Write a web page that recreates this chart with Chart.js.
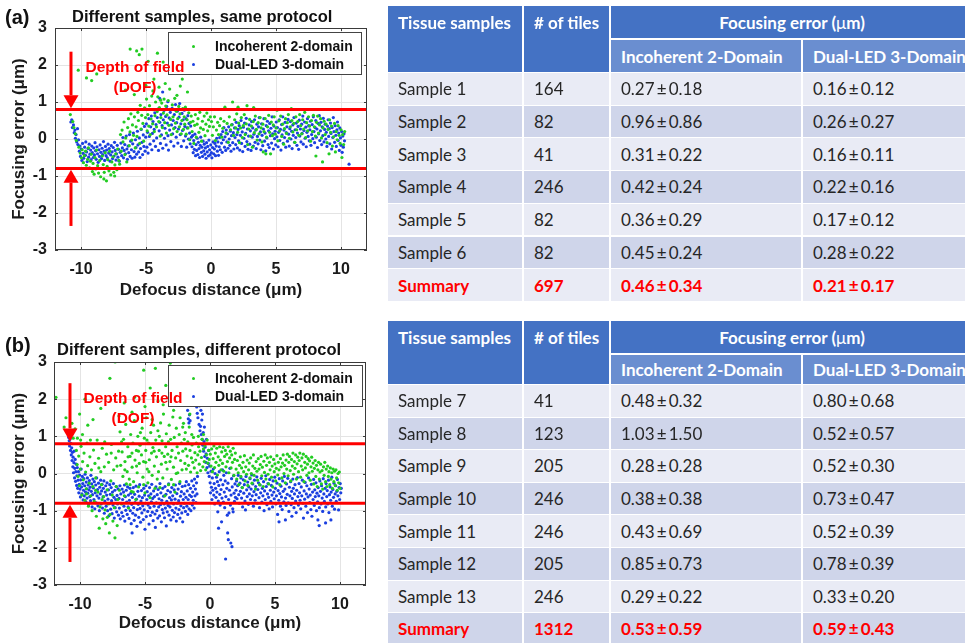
<!DOCTYPE html>
<html><head><meta charset="utf-8">
<script src="https://cdn.jsdelivr.net/npm/chart.js@4"></script>
<style>
html,body{margin:0;padding:0;width:965px;height:643px;overflow:hidden;background:#fff;font-family:"Liberation Sans",Arial,sans-serif;}
canvas{position:absolute;left:0;}
.lbl{position:absolute;font-weight:bold;color:#111;white-space:nowrap;}
.legend{position:absolute;background:#fff;border:1px solid #444;box-sizing:border-box;}
.legend .row{position:absolute;left:46px;font:bold 14px "Liberation Sans",Arial,sans-serif;color:#111;white-space:nowrap;line-height:16px;}
.legend .dot{position:absolute;left:23px;width:3px;height:3px;border-radius:50%;}
.dof{position:absolute;color:#ff0000;font:bold 15.5px "Liberation Sans",Arial,sans-serif;text-align:center;line-height:20px;width:180px;white-space:nowrap;}
.cell{position:absolute;box-sizing:border-box;border-right:2px solid #fff;border-bottom:1px solid #fff;font-family:Lato,"Open Sans",sans-serif;font-size:17px;white-space:nowrap;padding-left:10px;display:flex;align-items:center;overflow:hidden;color:#262626;}
</style></head>
<body>
<canvas id="ca" width="385" height="305" style="top:0"></canvas>
<canvas id="cb" width="385" height="308" style="top:330px"></canvas>

<div class="lbl" style="left:5px;top:5px;font-size:20px;line-height:24px;">(a)</div>
<div class="lbl" style="left:72px;top:7px;font-size:16.5px;line-height:19px;">Different samples, same protocol</div>
<div class="legend" style="left:168px;top:32px;width:194px;height:43px;">
  <div class="dot" style="top:12px;background:#22cc22"></div><div class="row" style="top:5px">Incoherent 2-domain</div>
  <div class="dot" style="top:30px;background:#1a3fe0"></div><div class="row" style="top:23px">Dual-LED 3-domain</div>
</div>
<div class="dof" style="left:45px;top:57px;">Depth of field<br>(DOF)</div>

<div class="lbl" style="left:5px;top:333px;font-size:20px;line-height:24px;">(b)</div>
<div class="lbl" style="left:57px;top:340px;font-size:16.5px;line-height:19px;">Different samples, different protocol</div>
<div class="legend" style="left:168px;top:365px;width:195px;height:42px;">
  <div class="dot" style="top:11px;background:#22cc22"></div><div class="row" style="top:4px">Incoherent 2-domain</div>
  <div class="dot" style="top:29px;background:#1a3fe0"></div><div class="row" style="top:22px">Dual-LED 3-domain</div>
</div>
<div class="dof" style="left:43px;top:388px;">Depth of field<br>(DOF)</div>

<div id="tables"></div>

<script>
// ---------------- axis / reference values ----------------
const xRange = [-12, 12];
const yRange = [-3, 3];
const xTicks = [-10, -5, 0, 5, 10];
const yTicks = [-3, -2, -1, 0, 1, 2, 3];
const dofLimits = [0.8, -0.8];

// ---------------- panel (a): Incoherent 2-domain [defocus µm, error µm] ----------------
const aInc = [
[-10.82,0.66],[-10.63,0.47],[-10.55,0.31],[-10.44,0.14],[-10.36,-0.04],[-10.21,1.86],[-9.58,1.65],[-9.18,1.58],[-8.79,1.76],
[-10.16,-0.22],[-10.06,-0.38],[-9.96,-0.51],[-9.91,-0.29],[-9.81,-0.64],[-9.74,-0.45],[-9.65,-0.33],[-9.59,-0.71],[-9.49,-0.55],[-9.43,-0.24],
[-9.34,-0.78],[-9.27,-0.6],[-9.21,-0.41],[-9.12,-0.88],[-9.07,-0.66],[-8.99,-0.95],[-8.93,-0.5],[-8.86,-0.81],[-8.8,-0.3],[-8.72,-0.72],
[-8.65,-0.92],[-8.56,-0.58],[-8.49,-1.02],[-8.44,-0.79],[-8.36,-0.46],[-8.29,-0.69],[-8.21,-0.9],[-8.14,-0.37],[-8.04,-1.13],[-7.99,-0.74],
[-7.94,-0.56],[-7.85,-0.86],[-7.79,-0.33],[-7.71,-0.97],[-7.63,-0.62],[-7.54,-0.48],[-7.48,-0.9],[-7.39,-0.7],[-7.33,-0.4],[-7.24,-0.83],
[-7.18,-0.27],[-7.09,-0.58],[-7.03,-0.68],[-7.41,-1.0],[-8.24,-1.08],
[-6.96,0.12],[-6.91,-0.33],[-6.84,0.24],[-6.77,-0.08],[-6.69,0.46],[-6.62,-0.42],[-6.56,0.03],[-6.48,-0.62],[-6.41,0.31],[-6.35,0.55],
[-6.29,-0.18],[-6.23,0.19],[-6.16,0.68],[-6.09,-0.03],[-6.04,0.38],[-5.96,0.1],[-5.89,0.6],[-5.83,-0.24],[-5.76,0.33],[-5.69,0.07],
[-5.63,0.72],[-5.58,0.5],[-5.49,-0.12],[-5.44,0.91],[-5.38,0.27],[-5.33,0.64],[-5.24,0.42],[-5.18,-0.06],[-5.11,0.84],[-5.04,0.58],
[-6.22,2.43],[-5.72,2.38],[-5.31,2.43],[-5.52,2.28],[-4.12,2.32],[-4.83,2.1],[-3.68,2.08],[-2.93,1.84],[-2.21,1.62],[-2.36,1.43],
[-1.81,1.27],[-3.52,1.5],[-4.47,1.3],[-3.18,1.35],[-5.02,1.45],[-2.62,1.18],[-3.88,1.05],[-4.39,1.62],[-6.58,1.32],[-5.9,1.2],[-4.0,1.4],
[-4.96,1.08],[-4.91,0.22],[-4.86,0.66],[-4.79,0.35],[-4.73,0.9],[-4.67,0.12],[-4.61,0.54],[-4.56,1.16],[-4.49,0.41],[-4.43,0.79],
[-4.36,0.2],[-4.31,0.63],[-4.26,1.0],[-4.19,0.33],[-4.14,0.74],[-4.09,1.14],[-4.02,0.47],[-3.97,0.85],[-3.91,0.08],[-3.86,0.58],
[-3.79,0.97],[-3.74,0.31],[-3.66,0.7],[-3.61,1.08],[-3.56,0.44],[-3.48,0.89],[-3.43,0.16],[-3.38,0.65],[-3.29,1.04],[-3.24,0.37],
[-3.16,0.8],[-3.11,0.53],[-3.06,0.12],[-2.98,0.92],[-2.92,0.6],[-2.87,0.28],[-2.79,1.1],[-2.74,0.43],[-2.67,0.75],[-2.61,0.2],
[-2.56,0.55],[-2.48,0.88],[-2.43,0.33],[-2.38,0.68],[-2.29,0.14],[-2.24,0.5],[-2.17,0.82],[-2.12,0.26],[-2.06,0.6],[-2.02,0.4],
[-1.97,0.86],[-1.91,0.13],[-1.84,0.52],[-1.77,0.3],[-1.71,0.71],[-1.64,-0.02],[-1.58,0.45],[-1.52,0.62],[-1.45,0.2],[-1.39,0.48],
[-1.32,-0.12],[-1.26,0.37],[-1.2,0.66],[-1.13,0.05],[-1.07,0.4],[-1.0,0.55],[-0.93,0.18],[-0.86,0.72],[-0.8,0.3],[-0.73,-0.06],
[-0.66,0.48],[-0.59,0.26],[-0.52,0.62],[-0.46,0.09],[-0.39,0.4],[-0.32,0.7],[-0.26,0.22],[-0.19,0.52],[-0.12,0.34],[-0.05,0.6],
[0.04,0.47],[0.11,0.1],[0.18,0.33],[0.27,0.6],[0.34,-0.04],[0.42,0.24],[0.51,0.45],[0.58,0.12],[0.66,0.36],[0.74,0.55],[0.83,0.05],
[0.91,0.29],[1.0,0.48],[1.07,0.86],[1.15,0.16],[1.24,0.42],[1.33,-0.09],[1.41,0.6],[1.5,0.25],[1.57,0.38],[1.66,1.0],[1.73,0.1],
[1.82,0.52],[1.9,0.3],[1.98,0.68],[2.08,0.86],
[2.05,0.18],[2.13,0.43],[2.19,-0.1],[2.27,0.3],[2.33,0.58],[2.41,0.04],[2.48,0.36],[2.56,0.66],[2.63,0.12],[2.71,0.41],[2.77,0.9],
[2.82,-0.15],[2.9,0.27],[2.97,0.53],[3.04,0.08],[3.11,0.35],[3.19,-0.22],[3.25,0.47],[3.28,0.85],[3.33,0.17],[3.41,0.62],[3.49,0.26],
[3.55,-0.03],[3.63,0.44],[3.7,0.14],[3.78,0.58],[3.86,0.3],[3.92,-0.08],[3.99,0.4],[4.02,-0.35],[4.08,0.2],[4.17,0.55],[4.22,-0.4],
[4.27,0.05],[4.35,0.33],[4.44,0.64],[4.51,0.18],[4.58,-0.4],[4.64,0.46],[4.72,0.09],[4.79,0.38],[4.86,0.6],[4.94,0.13],[5.01,0.3],
[5.08,0.78],[5.14,-0.05],[5.22,0.49],[5.28,0.22],[5.36,0.62],[5.44,0.07],[5.51,0.4],[5.59,-0.14],[5.65,0.28],[5.73,0.55],[5.81,0.15],
[5.87,0.44],[5.95,0.66],[6.03,0.02],[6.1,0.33],[6.18,0.82],[6.22,0.5],[6.3,0.19],[6.37,0.42],[6.45,-0.09],[6.53,0.6],[6.59,0.25],
[6.67,0.47],[6.75,0.1],[6.82,0.66],[6.9,0.36],[6.98,0.14],[7.05,0.52],[7.13,0.27],[7.21,0.72],[7.28,0.04],[7.36,0.44],[7.43,0.22],
[7.5,0.6],[7.58,0.35],[7.66,-0.06],[7.73,0.5],[7.8,0.2],[7.88,0.64],[7.95,0.33],[8.03,0.08],[8.07,-0.46],[8.12,0.45],[8.2,0.62],
[8.27,0.16],[8.35,0.38],[8.43,0.55],[8.5,0.03],[8.58,-0.62],[8.62,0.3],[8.7,0.48],[8.78,0.12],[8.85,0.4],[8.93,-0.1],[9.0,0.26],
[9.08,-0.4],[9.12,0.52],[9.2,0.18],[9.27,0.35],[9.34,-0.19],[9.42,0.06],[9.5,0.42],[9.57,-0.35],[9.63,0.2],[9.71,-0.02],[9.78,0.36],
[9.85,0.1],[9.93,-0.12],[10.0,0.25],[10.07,-0.5],[10.13,0.12],[10.2,-0.15],[10.28,0.2]
];

// ---------------- panel (a): Dual-LED 3-domain ----------------
const aDual = [
[-10.78,0.46],[-10.71,0.52],[-10.66,0.31],[-10.58,0.38],[-10.52,0.17],[-10.47,0.24],[-10.43,0.02],[-10.38,0.12],[-10.33,-0.08],
[-10.27,0.28],[-10.24,-0.15],[-10.19,-0.02],
[-10.13,-0.33],[-10.08,-0.19],[-10.04,-0.47],[-9.97,-0.27],[-9.93,-0.58],[-9.88,-0.12],[-9.83,-0.39],[-9.79,-0.52],[-9.72,-0.22],
[-9.66,-0.44],[-9.63,-0.08],[-9.57,-0.35],[-9.52,-0.61],[-9.46,-0.26],[-9.41,-0.49],[-9.37,-0.14],[-9.31,-0.41],[-9.26,-0.3],
[-9.22,-0.56],[-9.17,-0.19],[-9.13,-0.37],[-9.06,-0.5],[-9.02,-0.24],[-8.97,-0.43],[-8.92,-0.1],[-8.88,-0.32],[-8.83,-0.55],
[-8.77,-0.21],[-8.73,-0.4],[-8.68,-0.63],[-8.62,-0.29],[-8.58,-0.47],[-8.53,-0.16],[-8.47,-0.36],[-8.42,-0.53],[-8.38,-0.25],
[-8.33,-0.42],[-8.27,-0.07],[-8.22,-0.33],[-8.18,-0.58],[-8.12,-0.2],[-8.07,-0.45],[-8.03,-0.3],[-7.98,-0.51],[-7.92,-0.14],
[-7.87,-0.38],[-7.83,-0.26],[-7.76,-0.6],[-7.72,-0.43],[-7.67,-0.18],[-7.61,-0.35],[-7.57,-0.53],[-7.52,-0.23],[-7.46,-0.46],
[-7.42,-0.09],[-7.37,-0.31],[-7.31,-0.57],[-7.27,-0.4],[-7.21,-0.17],[-7.16,-0.49],[-7.11,-0.28],[-7.06,-0.6],
[-6.98,-0.36],[-6.93,-0.11],[-6.87,-0.45],[-6.82,-0.24],[-6.78,0.04],[-6.73,-0.51],[-6.68,-0.31],[-6.63,-0.15],[-6.58,-0.4],
[-6.52,0.08],[-6.47,-0.27],[-6.43,-0.55],[-6.38,-0.19],[-6.33,-0.37],[-6.27,0.12],[-6.22,-0.47],[-6.18,-0.06],[-6.12,-0.29],
[-6.07,-0.52],[-6.02,-0.13],[-5.97,0.16],[-5.92,-0.34],[-5.86,-0.49],[-5.81,-0.02],[-5.77,-0.23],[-5.72,-0.41],[-5.66,0.21],
[-5.62,-0.16],[-5.57,-0.35],[-5.51,0.03],[-5.46,-0.5],[-5.42,-0.26],[-5.37,0.26],[-5.31,-0.09],[-5.26,-0.42],[-5.21,0.11],
[-5.16,-0.2],[-5.12,0.34],[-5.07,-0.33],[-5.02,0.05],
[-4.97,0.41],[-4.93,-0.22],[-4.88,0.18],[-4.84,-0.38],[-4.78,0.55],[-4.74,0.07],[-4.69,-0.14],[-4.64,0.33],[-4.59,0.62],[-4.55,-0.29],
[-4.51,0.15],[-4.46,0.47],[-4.41,-0.05],[-4.37,0.26],[-4.32,0.71],[-4.27,-0.2],[-4.23,0.39],[-4.18,0.03],[-4.13,0.58],[-4.08,0.81],
[-4.04,-0.31],[-3.99,0.22],[-3.95,1.1],[-3.94,0.45],[-3.89,-0.12],[-3.85,0.66],[-3.81,0.11],[-3.76,0.36],[-3.72,1.27],[-3.71,-0.25],
[-3.67,0.52],[-3.62,0.77],[-3.58,0.02],[-3.54,0.29],[-3.49,0.61],[-3.45,-0.16],[-3.41,0.88],[-3.36,0.43],[-3.32,1.01],[-3.31,0.09],
[-3.27,-0.3],[-3.22,0.57],[-3.18,0.24],[-3.13,0.72],[-3.09,-0.07],[-3.04,0.38],[-2.99,0.83],[-2.95,0.14],[-2.91,0.5],[-2.86,-0.19],
[-2.82,0.66],[-2.77,0.31],[-2.73,0.93],[-2.68,0.05],[-2.64,0.44],[-2.59,0.75],[-2.55,-0.11],[-2.5,0.27],[-2.46,0.59],[-2.41,0.96],
[-2.37,0.12],[-2.32,0.41],[-2.28,-0.2],[-2.23,0.69],[-2.19,0.23],[-2.14,0.52],[-2.1,-0.05],[-2.05,0.78],[-2.01,0.34],[-1.96,0.08],
[-1.92,0.55],[-1.87,-0.22],[-1.83,0.3],[-1.78,0.63],[-1.74,0.0],[-1.69,0.42],[-1.65,0.16],[-1.6,-0.13],[-1.56,0.35],[-1.51,0.05],
[-1.46,-0.21],[-1.42,0.09],[-1.37,-0.37],[-1.33,-0.04],[-1.28,-0.28],[-1.24,0.13],[-1.19,-0.45],[-1.15,-0.15],[-1.1,-0.31],
[-1.06,0.02],[-1.01,-0.42],[-0.97,-0.09],[-0.92,-0.26],[-0.88,-0.5],[-0.83,-0.17],[-0.79,0.05],[-0.74,-0.36],[-0.7,-0.22],
[-0.65,-0.47],[-0.61,-0.06],[-0.56,-0.32],[-0.52,-0.14],[-0.47,-0.41],[-0.43,-0.24],[-0.38,-0.52],[-0.34,-0.1],[-0.29,-0.35],
[-0.25,-0.2],[-0.2,-0.46],[-0.16,-0.03],[-0.11,-0.29],[-0.07,-0.43],[-0.02,-0.16],[0.03,-0.37],[0.07,-0.51],[0.12,-0.23],
[0.16,-0.08],[0.21,-0.4],[0.26,-0.27],[0.3,-0.12],[0.35,-0.45],[0.4,-0.19],[0.44,0.02],[0.49,-0.33],[0.53,-0.08],[0.58,-0.44],
[0.63,-0.21],[0.67,0.04],
[0.72,-0.29],[0.77,0.12],[0.81,-0.11],[0.86,-0.36],[0.9,0.2],[0.95,-0.02],[0.99,0.31],[1.04,-0.22],[1.08,0.06],[1.13,-0.31],
[1.17,0.24],[1.22,-0.08],[1.27,0.14],[1.31,-0.25],[1.36,0.33],[1.4,0.0],[1.45,-0.17],[1.49,0.21],[1.54,-0.33],[1.58,0.09],
[1.63,0.39],[1.67,-0.1],[1.72,0.17],[1.76,-0.27],[1.81,0.3],[1.85,0.04],[1.9,-0.15],[1.94,0.45],[1.99,0.12],[2.03,-0.24],
[2.08,0.26],[2.12,-0.05],[2.17,0.36],[2.21,-0.3],[2.26,0.1],[2.31,0.5],[2.35,-0.12],[2.4,0.19],[2.44,-0.34],[2.49,0.32],
[2.53,0.02],[2.58,0.43],[2.62,-0.2],[2.67,0.15],[2.71,0.56],[2.76,-0.07],[2.8,0.27],[2.85,-0.28],[2.89,0.08],[2.94,0.38],
[2.98,-0.14],[3.03,0.22],[3.08,-0.31],[3.12,0.47],[3.17,0.05],[3.21,0.3],[3.26,-0.19],[3.3,0.13],[3.35,0.52],[3.39,-0.09],
[3.44,0.24],[3.48,-0.26],[3.53,0.4],[3.57,0.07],[3.62,-0.13],[3.66,0.33],[3.71,0.58],[3.75,-0.03],[3.8,0.19],[3.84,-0.29],
[3.89,0.41],[3.93,0.1],[3.98,-0.18],[4.03,0.27],[4.07,0.55],[4.12,-0.06],[4.16,0.16],[4.21,-0.32],[4.25,0.36],[4.3,0.03],
[4.34,0.48],[4.39,-0.15],[4.43,0.22],[4.48,-0.23],[4.52,0.42],[4.57,0.09],[4.61,0.29],[4.66,-0.11],[4.7,0.6],[4.75,0.14],
[4.8,-0.27],[4.84,0.35],[4.89,0.01],[4.93,0.21],[4.98,-0.16],[5.02,0.46],[5.07,0.06],[5.11,0.31],[5.16,-0.21],[5.2,0.18],
[5.25,0.52],[5.29,-0.04],[5.34,0.26],[5.38,-0.3],[5.43,0.39],[5.47,0.11],[5.52,0.6],[5.56,-0.12],[5.61,0.24],[5.66,0.04],
[5.7,0.45],[5.75,-0.22],[5.79,0.17],[5.84,0.33],[5.88,-0.06],[5.93,0.53],[5.97,0.13],[6.02,-0.19],[6.06,0.28],[6.11,0.47],
[6.15,0.0],[6.2,0.21],[6.24,-0.26],[6.29,0.38],[6.33,0.1],[6.38,0.58],[6.43,-0.09],[6.47,0.25],[6.52,0.04],[6.56,0.43],
[6.61,-0.17],[6.65,0.16],[6.7,0.34],[6.74,-0.28],[6.79,0.51],[6.83,0.08],[6.88,0.27],[6.92,-0.08],[6.97,0.4],[7.01,0.15],
[7.06,0.62],[7.1,-0.14],[7.15,0.23],[7.2,0.46],[7.24,0.02],[7.29,0.32],[7.33,-0.21],[7.38,0.18],[7.42,0.55],[7.47,0.07],
[7.51,0.36],[7.56,-0.05],[7.6,0.25],[7.65,0.48],[7.69,-0.17],[7.74,0.12],[7.78,0.39],[7.83,0.01],[7.87,0.6],[7.92,0.2],
[7.97,-0.1],[8.01,0.31],[8.06,0.5],[8.1,0.05],[8.15,0.27],[8.19,-0.23],[8.24,0.42],[8.28,0.14],[8.33,0.63],[8.37,-0.04],
[8.42,0.22],[8.46,0.45],[8.51,-0.15],[8.55,0.33],[8.6,0.09],[8.64,0.56],[8.69,-0.08],[8.74,0.26],[8.78,0.4],[8.83,0.0],
[8.87,0.18],[8.92,-0.2],[8.96,0.35],[9.01,0.52],[9.05,0.07],[9.1,0.28],[9.14,-0.13],[9.19,0.43],[9.23,0.15],[9.28,-0.27],
[9.32,0.31],[9.37,0.04],[9.41,0.58],[9.46,0.2],[9.51,-0.09],[9.55,0.36],[9.6,0.1],[9.64,-0.2],[9.69,0.25],[9.73,0.46],
[9.78,-0.04],[9.82,0.16],[9.87,-0.31],[9.91,0.3],[9.96,0.03],[10.0,-0.17],[10.05,0.2],[10.09,-0.36],[10.14,0.08],[10.18,-0.22],
[10.23,0.14],[10.27,-0.05],[10.62,-0.68]
];

// ---------------- panel (b): Incoherent 2-domain ----------------
const bInc = [
[-11.85,2.05],[-11.22,1.25],[-11.08,1.5],[-10.93,1.1],[-10.62,1.35],[-10.52,0.95],[-10.38,1.2],[-9.62,2.0],[-10.03,1.6],[-9.81,1.05],
[-10.75,1.05],[-10.2,0.95],[-9.4,1.3],
[-7.3,3.0],[-5.1,2.78],[-4.2,2.83],[-3.05,2.97],[-7.7,2.56],[-3.4,2.37],[-1.7,1.84],[-2.1,1.25],[-4.6,2.3],[-5.8,2.05],[-6.6,1.9],
[-3.0,2.2],[-2.5,1.95],[-4.0,1.95],[-8.4,1.75],[-6.0,1.65],[-5.0,1.8],[-1.55,1.6],[-2.8,1.7],[-3.6,1.85],[-7.0,1.55],[-9.0,1.45],
[-10.28,0.62],[-10.22,0.24],[-10.15,-0.08],[-10.1,0.47],[-10.04,-0.33],[-9.98,0.12],[-9.92,0.73],[-9.86,-0.58],[-9.8,0.32],
[-9.75,-0.17],[-9.69,0.55],[-9.63,-0.72],[-9.57,0.04],[-9.52,-0.41],[-9.46,0.82],[-9.41,0.21],[-9.35,-0.88],[-9.29,-0.26],
[-9.24,0.45],[-9.18,-0.6],[-9.12,0.1],[-9.07,-1.0],[-9.01,-0.35],[-8.96,0.63],[-8.9,-0.75],[-8.85,0.27],[-8.79,-0.12],[-8.74,-1.15],
[-8.68,0.9],[-8.62,-0.5],[-8.57,0.41],[-8.52,-1.47],[-8.46,-0.9],[-8.4,0.05],[-8.35,-0.3],[-8.29,0.68],[-8.24,-1.22],[-8.18,-0.62],
[-8.13,0.18],[-8.07,-0.98],[-8.02,-1.35],[-7.96,0.52],[-7.91,-0.44],[-7.85,-0.82],[-7.8,0.3],[-7.74,-1.6],[-7.69,-1.1],[-7.63,-0.2],
[-7.58,0.78],[-7.52,-0.58],[-7.47,-1.28],[-7.41,0.1],[-7.36,-0.92],[-7.31,-1.73],[-7.25,0.42],[-7.2,-0.35],[-7.14,-1.4],[-7.09,-0.7],
[-7.03,0.6],[-9.2,0.9],[-8.1,0.85],[-7.6,0.55],[-8.8,-0.45],[-9.5,-0.55],[-8.3,-0.7],[-7.9,-1.18],[-7.15,0.2],[-9.95,0.9],[-8.55,0.15],
[-6.97,-0.45],[-6.92,1.12],[-6.87,0.22],[-6.81,-0.82],[-6.76,0.58],[-6.7,-0.08],[-6.65,0.92],[-6.59,-0.6],[-6.54,0.32],[-6.48,1.32],
[-6.43,-0.28],[-6.37,0.05],[-6.32,0.72],[-6.26,-0.93],[-6.21,-0.15],[-6.15,0.46],[-6.1,1.05],[-6.04,-0.48],[-5.99,0.17],[-5.93,0.82],
[-5.88,-0.22],[-5.82,1.42],[-5.77,0.36],[-5.71,-0.7],[-5.66,0.62],[-5.6,0.02],[-5.55,1.0],[-5.49,-0.36],[-5.44,0.27],[-5.38,0.76],
[-5.33,-0.8],[-5.27,0.5],[-5.22,1.22],[-5.16,-0.1],[-5.11,0.32],[-5.05,0.95],[-5.0,-0.52],[-4.94,0.62],[-4.89,1.5],[-4.83,0.12],
[-4.78,-0.25],[-4.72,0.82],[-4.67,0.37],[-4.61,-0.65],[-4.56,1.1],[-4.5,0.55],[-4.45,-0.05],[-4.39,0.7],[-4.34,1.3],[-4.28,0.2],
[-4.23,-0.4],[-4.17,0.9],[-4.12,0.45],[-4.06,-0.15],[-4.01,1.15],[-6.8,0.85],[-6.3,0.45],[-5.9,-0.5],[-5.5,0.6],[-5.1,-0.3],
[-4.7,0.05],[-4.3,0.6],[-6.55,0.1],[-6.0,0.55],[-5.35,1.1],[-4.95,0.3],[-4.45,1.45],[-6.15,-0.3],[-5.65,0.2],[-4.85,0.9],
[-3.96,0.05],[-3.91,0.62],[-3.85,-0.38],[-3.8,1.36],[-3.74,0.25],[-3.69,0.88],[-3.63,-0.12],[-3.58,1.6],[-3.52,0.46],[-3.47,-0.6],
[-3.41,0.72],[-3.36,1.07],[-3.3,0.12],[-3.25,0.52],[-3.19,-0.3],[-3.14,1.3],[-3.08,0.32],[-3.03,0.92],[-2.97,-0.16],[-2.92,0.62],
[-2.86,1.52],[-2.81,0.17],[-2.75,0.97],[-2.7,-0.5],[-2.64,0.42],[-2.59,1.22],[-2.53,0.72],[-2.48,0.02],[-2.42,0.55],[-2.37,1.05],
[-2.31,-0.22],[-2.26,0.35],[-2.2,0.82],[-2.15,0.1],[-2.09,0.6],[-2.04,1.35],[-3.9,1.0],[-3.4,0.3],[-3.0,0.45],[-2.6,0.0],[-2.3,1.5],
[-3.7,0.55],[-2.8,-0.3],[-3.2,0.85],
[-1.98,0.92],[-1.93,0.27],[-1.87,0.66],[-1.82,0.12],[-1.76,0.47],[-1.71,0.85],[-1.65,0.22],[-1.6,1.25],[-1.54,0.62],[-1.49,0.04],
[-1.43,0.42],[-1.38,0.77],[-1.32,0.3],[-1.27,0.97],[-1.21,0.15],[-1.16,0.56],[-1.1,0.36],[-1.05,0.82],[-0.99,0.02],[-0.94,0.5],
[-0.88,0.72],[-0.83,0.25],[-0.77,0.6],[-0.72,0.08],[-0.66,0.43],[-0.61,0.92],[-0.55,0.18],[-0.5,0.66],[-0.44,0.32],[-0.39,0.75],
[-0.33,0.1],[-0.28,0.5],[-0.22,0.9],[-0.17,0.28],[-0.11,0.62],[-0.06,0.38],[-1.9,1.1],[-1.4,1.05],[-0.9,1.0],[-0.5,1.05],
[0.02,0.52],[0.08,0.2],[0.13,0.66],[0.19,0.05],[0.24,0.4],[0.3,0.74],[0.35,0.16],[0.41,0.55],[0.46,0.3],[0.52,0.68],[0.57,-0.04],
[0.63,0.45],[0.68,0.22],[0.74,0.72],[0.79,0.36],[0.85,0.1],[0.9,0.58],[0.96,0.27],[1.01,0.7],[1.07,0.06],[1.12,0.46],[1.18,0.62],
[1.23,0.18],[1.29,0.52],[1.34,0.32],[1.4,0.72],[1.45,0.02],[1.51,0.42],[1.56,0.6],[1.62,0.15],[1.67,0.5],[1.73,0.3],[1.78,0.68],
[1.84,-0.05],[1.89,0.38],[1.95,0.55],
[2.01,0.12],[2.06,-0.15],[2.11,0.35],[2.17,0.02],[2.22,-0.3],[2.27,0.22],[2.33,0.45],[2.38,-0.08],[2.43,0.15],[2.49,-0.38],
[2.54,0.3],[2.59,0.05],[2.65,0.48],[2.7,-0.2],[2.75,0.18],[2.81,-0.02],[2.86,0.36],[2.91,-0.32],[2.97,0.1],[3.02,0.28],[3.07,-0.12],
[3.13,0.42],[3.18,0.0],[3.23,-0.26],[3.29,0.2],[3.34,0.5],[3.39,-0.05],[3.45,0.14],[3.5,-0.42],[3.55,0.32],[3.61,0.06],[3.66,-0.18],
[3.71,0.4],[3.77,0.12],[3.82,-0.3],[3.87,0.24],[3.93,0.46],[3.98,-0.06],[4.03,0.17],[4.09,-0.35],[4.14,0.33],[4.19,0.03],[4.25,0.5],
[4.3,-0.15],[4.35,0.22],[4.41,0.42],[4.46,-0.02],[4.51,-0.28],[4.57,0.3],[4.62,0.1],[4.67,0.45],[4.73,-0.1],[4.78,0.2],[4.83,-0.36],
[4.89,0.38],[4.94,0.05],[4.99,0.26],[5.05,-0.2],[5.1,0.14],[5.15,0.48],[5.21,-0.04],[5.26,0.3],[5.31,0.1],[5.37,-0.3],[5.42,0.4],
[5.47,0.18],[5.53,-0.12],[5.58,0.28],[5.63,0.5],[5.69,0.0],[5.74,0.22],[5.79,-0.25],[5.85,0.36],[5.9,0.12],[5.95,0.52],[6.01,-0.06],
[6.06,0.3],[6.11,0.46],[6.17,0.08],[6.22,-0.2],[6.27,0.38],[6.33,0.2],[6.38,0.55],[6.43,-0.02],[6.49,0.32],[6.54,0.14],[6.59,0.5],
[6.65,-0.15],[6.7,0.26],[6.75,0.44],[6.81,0.05],[6.86,0.35],[6.91,0.55],[6.97,-0.1],[7.02,0.2],[7.07,0.42],[7.13,0.1],[7.18,0.52],
[7.23,-0.22],[7.29,0.3],[7.34,0.15],[7.39,0.46],[7.45,-0.05],[7.5,0.25],[7.55,0.4],[7.61,0.02],[7.66,0.34],[7.71,-0.18],[7.77,0.18],
[7.82,0.44],[7.87,0.06],[7.93,0.28],[7.98,-0.28],[8.03,0.14],[8.09,0.35],[8.14,-0.08],[8.19,0.22],[8.25,-0.35],[8.3,0.1],[8.35,0.3],
[8.41,-0.15],[8.46,0.04],[8.51,0.25],[8.57,-0.28],[8.62,0.08],[8.67,-0.42],[8.73,0.18],[8.78,-0.05],[8.83,0.3],[8.89,-0.22],
[8.94,0.12],[8.99,-0.35],[9.05,0.2],[9.1,-0.08],[9.15,0.05],[9.21,-0.3],[9.26,0.15],[9.31,-0.15],[9.37,0.02],[9.42,-0.4],[9.47,0.12],
[9.53,-0.22],[9.58,0.06],[9.63,-0.32],[9.69,0.1],[9.74,-0.12],[9.79,-0.45],[9.85,0.0],[9.9,-0.25],[9.95,0.04],[10.0,-0.4]
];

// ---------------- panel (b): Dual-LED 3-domain ----------------
const bDual = [
[-10.87,0.97],[-10.83,0.88],[-10.8,0.74],[-10.76,0.93],[-10.73,0.62],[-10.7,0.81],[-10.67,0.5],[-10.64,0.69],[-10.61,0.35],
[-10.58,0.57],[-10.55,0.18],[-10.53,0.44],[-10.5,0.02],[-10.47,0.29],[-10.45,0.6],[-10.42,-0.12],[-10.4,0.14],[-10.37,0.38],
[-10.34,-0.21],[-10.32,0.05],[-10.29,0.25],[-10.26,-0.32],[-10.24,-0.06],[-10.21,0.16],[-10.18,-0.4],
[-10.15,-0.18],[-10.12,0.05],[-10.09,-0.52],[-10.06,-0.29],[-10.03,-0.04],[-10.0,-0.42],[-9.97,-0.63],[-9.94,-0.17],[-9.91,0.12],
[-9.88,-0.36],[-9.85,-0.55],[-9.82,-0.08],[-9.79,-0.27],[-9.76,-0.71],[-9.73,-0.45],[-9.7,-0.14],[-9.67,-0.6],[-9.64,-0.33],
[-9.61,-0.02],[-9.58,-0.5],[-9.55,-0.76],[-9.52,-0.23],[-9.49,-0.41],[-9.46,-0.66],[-9.43,-0.12],[-9.4,-0.53],[-9.37,-0.31],
[-9.34,-0.84],[-9.31,-0.44],[-9.28,-0.19],[-9.25,-0.62],[-9.22,-0.37],[-9.19,-0.73],[-9.16,-0.05],[-9.13,-0.48],[-9.1,-0.28],
[-9.07,-0.9],[-9.04,-0.57],[-9.01,-0.15],
[-8.97,-0.39],[-8.93,-0.7],[-8.9,-0.22],[-8.86,-0.95],[-8.83,-0.52],[-8.79,-0.31],[-8.76,-0.79],[-8.72,-0.12],[-8.69,-0.6],
[-8.65,-0.43],[-8.62,-0.87],[-8.58,-0.26],[-8.55,-0.66],[-8.51,-1.0],[-8.48,-0.37],[-8.44,-0.55],[-8.41,-0.18],[-8.37,-0.82],
[-8.34,-0.47],[-8.3,-0.29],[-8.27,-0.93],[-8.23,-0.63],[-8.2,-0.4],[-8.16,-0.2],[-8.13,-1.07],[-8.09,-0.74],[-8.06,-0.5],
[-8.02,-0.33],[-7.99,-0.88],[-7.95,-0.58],[-7.92,-0.25],[-7.88,-1.0],[-7.85,-0.69],[-7.81,-0.44],[-7.78,-1.14],[-7.74,-0.81],
[-7.71,-0.3],[-7.67,-0.56],[-7.64,-0.96],[-7.6,-0.38],[-7.57,-0.73],[-7.53,-1.08],[-7.5,-0.5],[-7.46,-0.85],[-7.43,-0.27],
[-7.39,-0.64],[-7.36,-1.2],[-7.32,-0.45],[-7.29,-0.92],[-7.25,-0.7],[-7.22,-0.35],[-7.18,-1.03],[-7.15,-0.59],[-7.11,-0.82],
[-7.08,-0.41],[-7.04,-1.12],
[-7.0,-0.67],[-6.97,-0.93],[-6.93,-0.33],[-6.9,-1.22],[-6.86,-0.55],[-6.83,-0.8],[-6.79,-1.05],[-6.76,-0.42],[-6.72,-0.7],
[-6.69,-1.15],[-6.65,-0.5],[-6.62,-0.88],[-6.58,-0.31],[-6.55,-1.28],[-6.51,-0.62],[-6.48,-0.99],[-6.44,-0.45],[-6.41,-0.77],
[-6.37,-1.1],[-6.34,-0.36],[-6.3,-0.9],[-6.27,-0.58],[-6.23,-1.21],[-6.2,-0.72],[-6.16,-0.4],[-6.13,-1.0],[-6.09,-0.53],
[-6.06,-1.35],[-6.02,-0.83],[-5.99,-1.6],[-5.97,-0.64],[-5.94,-1.07],[-5.9,-0.38],[-5.87,-0.92],[-5.83,-1.26],[-5.8,-0.56],
[-5.76,-0.78],[-5.73,-1.12],[-5.69,-0.34],[-5.66,-0.69],[-5.62,-1.42],[-5.59,-0.97],[-5.55,-0.48],[-5.52,-0.83],[-5.48,-1.18],
[-5.45,-0.61],[-5.41,-0.3],[-5.38,-0.94],[-5.34,-1.31],[-5.31,-0.74],[-5.27,-0.46],[-5.24,-1.06],[-5.2,-0.65],[-5.17,-0.87],
[-5.13,-1.24],[-5.1,-0.4],[-5.06,-0.98],[-5.03,-0.58],[-5.0,-1.5],[-4.97,-0.8],[-4.93,-0.33],[-4.9,-1.16],[-4.86,-0.7],
[-4.83,-0.49],[-4.79,-1.02],[-4.76,-0.85],[-4.72,-0.6],[-4.69,-1.36],[-4.65,-0.38],[-4.62,-0.92],[-4.58,-1.13],[-4.55,-0.55],
[-4.51,-0.76],[-4.48,-0.29],[-4.44,-1.04],[-4.41,-0.67],[-4.37,-1.27],[-4.34,-0.47],[-4.3,-0.88],[-4.27,-0.62],[-4.23,-1.09],
[-4.2,-1.45],[-4.16,-0.36],[-4.13,-0.79],[-4.09,-1.0],[-4.06,-0.57],[-4.02,-1.2],[-3.99,-0.43],[-3.95,-0.9],[-3.92,-0.68],
[-3.88,-1.14],[-3.85,-0.27],[-3.81,-0.84],[-3.78,-0.52],[-3.74,-1.3],[-3.71,-0.72],[-3.67,-0.97],[-3.64,-0.4],[-3.6,-1.06],
[-3.57,-0.61],[-3.53,-0.82],[-3.5,-1.19],[-3.46,-0.35],[-3.43,-0.93],[-3.39,-0.56],[-3.36,-1.41],[-3.32,-0.75],[-3.29,-1.03],
[-3.25,-0.46],[-3.22,-0.86],[-3.18,-0.28],[-3.15,-1.12],[-3.11,-0.65],[-3.08,-0.9],[-3.04,-0.5],[-3.01,-1.25],[-2.97,-0.71],
[-2.94,-0.38],[-2.9,-0.99],[-2.87,-0.6],[-2.83,-1.17],[-2.8,-0.82],[-2.76,-0.44],[-2.73,-1.05],[-2.69,-0.69],[-2.66,-0.31],
[-2.62,-0.93],[-2.59,-1.28],[-2.55,-0.54],[-2.52,-0.8],[-2.48,-1.1],[-2.45,-0.42],[-2.41,-0.73],[-2.38,-0.97],[-2.34,-0.27],
[-2.31,-1.2],[-2.27,-0.61],[-2.24,-0.87],[-2.2,-0.49],[-2.17,-1.06],[-2.13,-0.35],[-2.1,-1.3],[-2.06,-0.7],[-2.03,-0.92],
[-1.99,-0.55],[-1.96,-0.8],[-1.92,-0.33],[-1.89,-1.02],[-1.85,-0.64],[-1.82,-0.22],[-1.78,-0.88],[-1.75,-0.47],[-1.71,-1.1],
[-1.68,-0.7],[-1.64,-0.3],[-1.61,-0.95],[-1.57,-0.58],[-1.54,-0.8],[-1.5,-0.4],[-1.47,-1.0],[-1.43,-0.62],[-1.4,-0.2],[-1.36,-0.85],
[-1.33,-0.5],[-1.29,-0.72],[-1.26,-0.33],[-1.22,-0.93],[-1.19,-0.15],[-1.15,-0.6],[-1.12,-0.42],[-1.08,-0.78],[-1.04,-0.25],
[-1.0,-0.55],[-0.96,-0.08],
[-1.72,1.7],[-1.67,1.47],[-1.62,1.36],[-1.58,1.58],[-1.53,1.42],[-1.31,2.16],[-1.26,1.92],[-1.22,2.02],[-1.02,1.79],[-0.98,1.62],
[-0.93,1.5],[-0.88,1.95],[-0.84,1.32],[-0.8,1.82],[-0.77,1.15],[-0.73,1.27],[-0.7,1.7],[-0.67,1.05],[-0.63,1.44],[-0.6,0.92],
[-0.58,1.6],[-0.55,0.76],[-0.52,1.1],[-0.49,0.6],[-0.46,0.86],[-0.43,1.25],[-0.4,0.46],[-0.37,0.71],[-0.33,0.3],[-0.3,0.53],
[-0.27,0.92],[-0.23,0.16],[-0.2,0.41],[-0.16,0.02],[-0.13,0.27],[-0.1,0.62],[-0.06,-0.08],[-0.03,0.2],
[0.01,-0.25],[0.04,-0.52],[0.08,0.06],[0.11,-0.37],[0.15,-0.7],[0.18,-0.12],[0.22,-0.45],[0.25,0.12],[0.29,-0.58],[0.32,-0.27],
[0.36,-0.82],[0.39,0.0],[0.43,-0.4],[0.46,-0.64],[0.5,-0.1],[0.53,-0.5],[0.57,-0.22],[0.6,-1.03],[0.64,-0.74],[0.66,-1.47],
[0.68,-0.32],[0.71,0.05],[0.75,-0.56],[0.78,-0.85],[0.82,-0.17],[0.85,-0.43],[0.89,-1.3],[0.92,-0.66],[0.96,0.1],[0.99,-0.3],
[1.03,-0.77],[1.06,-0.05],[1.1,-0.5],[1.13,-0.92],[1.17,-0.2],[1.2,-2.3],[1.22,-0.62],[1.26,0.02],[1.29,-0.4],[1.33,-1.12],
[1.36,-1.6],[1.38,-0.26],[1.41,-1.78],[1.43,-0.7],[1.46,-1.06],[1.5,-0.45],[1.53,0.14],[1.57,-0.85],[1.6,-1.87],[1.62,-0.58],
[1.66,-0.14],[1.69,-1.97],[1.71,-0.36],[1.75,-0.95],[1.78,-1.03],[1.81,-0.06],[1.85,-0.53],[1.88,-0.75],[1.92,-0.28],[1.96,-0.64],
[2.0,-0.45],[2.04,-0.2],[2.08,-0.68],[2.12,-0.33],[2.17,-0.05],[2.21,-0.57],[2.25,-0.8],[2.3,-0.26],[2.34,-0.48],[2.38,-0.12],
[2.43,-0.66],[2.47,-0.38],[2.51,-0.9],[2.56,-0.17],[2.6,-0.53],[2.64,-0.3],[2.69,-0.74],[2.73,-0.98],[2.77,-0.08],[2.82,-0.44],
[2.86,-0.62],[2.9,-0.23],[2.95,-0.83],[2.99,-0.36],[3.03,-0.55],[3.08,-0.14],[3.12,-0.7],[3.16,-0.42],[3.21,-0.04],[3.25,-0.6],
[3.29,-0.28],[3.34,-0.88],[3.38,-0.49],[3.42,-0.18],[3.47,-0.72],[3.51,-0.35],[3.55,-0.57],[3.6,-0.09],[3.64,-0.8],[3.68,-0.43],
[3.73,-0.25],[3.77,-0.65],[3.81,-0.92],[3.86,-0.31],[3.9,-0.52],[3.94,-0.13],[3.99,-0.77],[4.03,-0.4],[4.07,-0.6],[4.12,-0.22],
[4.16,-1.0],[4.2,-0.47],[4.25,-0.7],[4.29,-0.06],[4.33,-0.35],[4.38,-0.84],[4.42,-0.55],[4.46,-0.27],[4.51,-0.64],[4.55,-0.95],
[4.59,-0.16],[4.64,-0.45],[4.68,-0.75],[4.72,-0.32],[4.77,-0.58],[4.81,-0.9],[4.85,-0.2],[4.9,-0.5],[4.94,-0.68],[4.98,-0.1],
[5.03,-0.4],[5.07,-0.82],[5.11,-0.6],[5.16,-0.26],[5.2,-1.1],[5.24,-0.46],[5.29,-0.72],[5.31,-1.3],[5.33,-0.14],[5.37,-0.54],
[5.42,-0.88],[5.46,-0.34],[5.5,-0.63],[5.55,-0.97],[5.59,-0.2],[5.63,-0.48],[5.68,-0.76],[5.72,-0.08],[5.76,-0.42],[5.8,-1.25],
[5.81,-0.66],[5.85,-0.86],[5.89,-0.28],[5.94,-0.56],[5.98,-0.13],[6.02,-0.79],[6.07,-1.02],[6.11,-0.37],[6.15,-0.6],[6.2,-0.22],
[6.24,-0.84],[6.28,-0.48],[6.3,-1.15],[6.33,-0.67],[6.37,-0.15],[6.41,-0.4],[6.46,-0.92],[6.5,-0.55],[6.54,-0.3],[6.59,-0.74],
[6.63,-1.05],[6.67,-0.45],[6.72,-0.11],[6.76,-0.62],[6.8,-0.85],[6.85,-0.27],[6.89,-0.52],[6.93,-0.72],[6.98,-0.95],[7.02,-0.36],
[7.06,-0.6],[7.11,-0.18],[7.15,-0.8],[7.19,-1.2],[7.24,-0.47],[7.28,-0.69],[7.32,-0.24],[7.37,-0.88],[7.41,-0.55],[7.45,-0.33],
[7.5,-1.05],[7.54,-0.63],[7.58,-0.12],[7.63,-0.42],[7.67,-0.78],[7.71,-0.58],[7.76,-0.97],[7.8,-0.29],[7.84,-1.15],[7.89,-0.5],
[7.93,-0.7],[7.97,-0.16],[8.02,-0.86],[8.06,-0.44],[8.1,-0.62],[8.15,-0.25],[8.19,-1.0],[8.23,-0.53],[8.28,-0.76],[8.3,-1.25],
[8.32,-0.38],[8.37,-0.6],[8.4,-1.4],[8.41,-0.92],[8.45,-0.2],[8.5,-0.48],[8.54,-0.82],[8.58,-0.33],[8.63,-0.66],[8.67,-1.02],
[8.71,-0.14],[8.76,-0.55],[8.8,-0.75],[8.85,-0.4],[8.89,-1.33],[8.9,-0.9],[8.93,-0.27],[8.98,-0.62],[9.02,-0.46],[9.06,-0.82],
[9.11,-0.18],[9.15,-1.05],[9.19,-0.57],[9.24,-0.36],[9.28,-0.72],[9.3,-1.25],[9.32,-0.5],[9.37,-0.1],[9.41,-0.88],[9.45,-0.43],
[9.5,-0.64],[9.54,-0.26],[9.58,-0.96],[9.63,-0.55],[9.67,-0.33],[9.71,-0.75],[9.76,-0.48],[9.8,-0.16],[9.84,-0.6],[9.89,-0.98],
[9.93,-0.38],[9.97,-0.7],[10.02,-0.27],[10.06,-0.52],[10.1,-0.4]
];

// ---------------- tables ----------------
const tblASamples = ["Sample 1","Sample 2","Sample 3","Sample 4","Sample 5","Sample 6","Summary"];
const tblATiles   = [164, 82, 41, 246, 82, 82, 697];
const tblAIncMean = [0.27, 0.96, 0.31, 0.42, 0.36, 0.45, 0.46];
const tblAIncSd   = [0.18, 0.86, 0.22, 0.24, 0.29, 0.24, 0.34];
const tblADualMean= [0.16, 0.26, 0.16, 0.22, 0.17, 0.28, 0.21];
const tblADualSd  = [0.12, 0.27, 0.11, 0.16, 0.12, 0.22, 0.17];

const tblBSamples = ["Sample 7","Sample 8","Sample 9","Sample 10","Sample 11","Sample 12","Sample 13","Summary"];
const tblBTiles   = [41, 123, 205, 246, 246, 205, 246, 1312];
const tblBIncMean = [0.48, 1.03, 0.28, 0.38, 0.43, 0.85, 0.29, 0.53];
const tblBIncSd   = [0.32, 1.50, 0.28, 0.38, 0.69, 0.73, 0.22, 0.59];
const tblBDualMean= [0.80, 0.52, 0.52, 0.73, 0.52, 0.78, 0.33, 0.59];
const tblBDualSd  = [0.68, 0.57, 0.30, 0.47, 0.39, 0.39, 0.20, 0.43];

// ---------------- styling ----------------
const GREEN = '#22cc22', BLUE = '#1a3fe0', RED = '#ff0000';
const tickFont = {family:'"Liberation Sans", Arial, sans-serif', size:16, weight:'bold'};
const titleFont = {family:'"Liberation Sans", Arial, sans-serif', size:17, weight:'bold'};

function drawArrow(ctx, px, py0, py1){
  const dir = Math.sign(py1 - py0), headL = 13, headW = 7.5;
  ctx.lineWidth = 3;
  ctx.beginPath(); ctx.moveTo(px, py0); ctx.lineTo(px, py1 - dir*headL); ctx.stroke();
  ctx.beginPath(); ctx.moveTo(px, py1); ctx.lineTo(px - headW, py1 - dir*headL); ctx.lineTo(px + headW, py1 - dir*headL);
  ctx.closePath(); ctx.fill();
}

const overlay = {
  id: 'overlay',
  afterDatasetsDraw(chart, args, opts){
    const {ctx, chartArea:a, scales:{x, y}} = chart;
    ctx.save();
    ctx.strokeStyle = RED; ctx.fillStyle = RED; ctx.lineWidth = 3;
    dofLimits.forEach(v => {
      const py = y.getPixelForValue(v);
      ctx.beginPath(); ctx.moveTo(a.left, py); ctx.lineTo(a.right, py); ctx.stroke();
    });
    (opts.arrows || []).forEach(([xv, y0, y1]) => drawArrow(ctx, x.getPixelForValue(xv), y.getPixelForValue(y0), y.getPixelForValue(y1)));
    ctx.strokeStyle = '#3a3a3a'; ctx.lineWidth = 1;
    ctx.strokeRect(Math.round(a.left)+0.5, Math.round(a.top)+0.5, Math.round(a.right-a.left)-1, Math.round(a.bottom-a.top)-1);
    ctx.beginPath();
    xTicks.forEach(v => { const px = Math.round(x.getPixelForValue(v))+0.5;
      ctx.moveTo(px, a.bottom); ctx.lineTo(px, a.bottom-3); ctx.moveTo(px, a.top); ctx.lineTo(px, a.top+3); });
    yTicks.forEach(v => { const py = Math.round(y.getPixelForValue(v))+0.5;
      ctx.moveTo(a.left, py); ctx.lineTo(a.left+3, py); ctx.moveTo(a.right, py); ctx.lineTo(a.right-3, py); });
    ctx.stroke();
    ctx.restore();
  }
};

function makePlot(id, inc, dual, geo){
  const ds = (label, pts, col) => ({label, data: pts.map(p => ({x:p[0], y:p[1]})), backgroundColor:col,
    pointRadius:1.6, pointBorderWidth:0, pointHoverRadius:1.6, borderWidth:0, showLine:false});
  return new Chart(document.getElementById(id), {
    type:'scatter',
    data:{datasets:[ds('Incoherent 2-domain', inc, GREEN), ds('Dual-LED 3-domain', dual, BLUE)]},
    options:{
      responsive:false, animation:false, events:[],
      layout:{padding:{left:0, top:geo.top, right:geo.right, bottom:0}},
      plugins:{legend:{display:false}, tooltip:{enabled:false}, overlay:{arrows:geo.arrows}},
      scales:{
        x:{type:'linear', min:xRange[0], max:xRange[1],
           afterBuildTicks:s => { s.ticks = xTicks.map(v => ({value:v})); },
           afterFit:s => { s.height = geo.xH; },
           grid:{color:'#e4e4e4', drawTicks:false}, border:{display:false},
           ticks:{padding:10, color:'#1a1a1a', font:tickFont, callback:v => String(v), maxRotation:0},
           title:{display:true, text:'Defocus distance (μm)', color:'#1a1a1a', font:titleFont, padding:{top:0, bottom:4}}},
        y:{type:'linear', min:yRange[0], max:yRange[1],
           afterBuildTicks:s => { s.ticks = yTicks.map(v => ({value:v})); },
           afterFit:s => { s.width = geo.yW; },
           grid:{color:'#e4e4e4', drawTicks:false}, border:{display:false},
           ticks:{padding:geo.yPad, color:'#1a1a1a', font:tickFont, callback:v => String(v)},
           title:{display:true, text:'Focusing error (μm)', color:'#1a1a1a', font:titleFont, padding:{top:9, bottom:0}}}
      }
    },
    plugins:[overlay]
  });
}

makePlot('ca', aInc, aDual, {top:28, right:18, xH:55, yW:55, yPad:8, arrows:[[-10.77, 2.36, 0.83], [-10.77, -2.35, -0.83]]});
makePlot('cb', bInc, bDual, {top:32, right:19, xH:53, yW:54, yPad:7, arrows:[[-10.77, 2.43, 0.86], [-10.77, -2.38, -0.84]]});

// ---------------- HTML tables ----------------
const colX = [388, 524, 611, 803, 975];
const HDR = '#4472C4', SUB = '#6A8ED0', LIGHT = '#E9EBF5', DARK = '#CFD5EA';
function cell(host, x0, x1, y0, h, bg, html, style){
  const d = document.createElement('div');
  d.className = 'cell';
  d.style.cssText = `left:${x0}px;top:${y0}px;width:${x1-x0}px;height:${h}px;background:${bg};` + (style||'');
  d.innerHTML = html;
  host.appendChild(d);
}
const pm = (m, s) => `${m.toFixed(2)}\u2009±\u2009${s.toFixed(2)}`;
function buildTable(top, h1, h2, rowH, samples, tiles, incM, incS, dualM, dualS){
  const host = document.getElementById('tables');
  const hs = 'color:#fff;font-weight:bold;';
  cell(host, colX[0], colX[1], top, h1+h2, HDR, 'Tissue samples', hs+'align-items:flex-start;padding-top:6px;');
  cell(host, colX[1], colX[2], top, h1+h2, HDR, '# of tiles', hs+'align-items:flex-start;padding-top:6px;');
  cell(host, colX[2], colX[4], top, h1, HDR, 'Focusing error (<span style="font-weight:normal">μ</span>m)', hs+'justify-content:center;padding-left:0;');
  cell(host, colX[2], colX[3], top+h1, h2, SUB, 'Incoherent 2-Domain', hs+'border-top:1px solid #fff;');
  cell(host, colX[3], colX[4], top+h1, h2, SUB, 'Dual-LED 3-Domain', hs+'border-top:1px solid #fff;');
  samples.forEach((s, i) => {
    const y0 = top + h1 + h2 + i*rowH;
    const bg = (i % 2 === 0) ? LIGHT : DARK;
    const last = i === samples.length - 1;
    const st = last ? 'color:#ff0000;font-weight:bold;' : '';
    cell(host, colX[0], colX[1], y0, rowH, bg, s, st);
    cell(host, colX[1], colX[2], y0, rowH, bg, String(tiles[i]), st);
    cell(host, colX[2], colX[3], y0, rowH, bg, pm(incM[i], incS[i]), st);
    cell(host, colX[3], colX[4], y0, rowH, bg, pm(dualM[i], dualS[i]), st);
  });
}
buildTable(6, 33, 34, 32.7, tblASamples, tblATiles, tblAIncMean, tblAIncSd, tblADualMean, tblADualSd);
buildTable(321, 33, 31, 32.6, tblBSamples, tblBTiles, tblBIncMean, tblBIncSd, tblBDualMean, tblBDualSd);
</script>
</body></html>
